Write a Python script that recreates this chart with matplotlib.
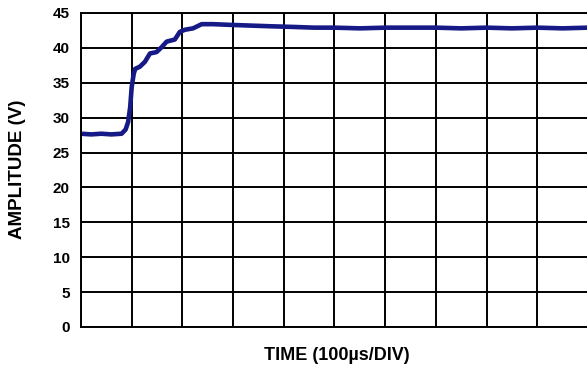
import matplotlib
matplotlib.use('Agg')
import matplotlib.pyplot as plt

# --- Trace (x in divisions, y in volts) ---
time_div = [0.00, 0.20, 0.40, 0.60, 0.80, 0.88, 0.93, 0.97, 1.00, 1.04, 1.07, 1.16,
            1.26, 1.36, 1.49, 1.59, 1.69, 1.85, 1.95, 2.05, 2.21, 2.38, 2.60,
            2.94, 3.33, 3.73, 4.20, 4.60, 5.00, 5.50, 6.00, 6.50, 7.00, 7.50,
            8.00, 8.50, 9.00, 9.50, 10.00]
amplitude = [27.7, 27.6, 27.7, 27.6, 27.7, 28.3, 29.4, 31.5, 34.4, 36.3, 37.0, 37.3,
             38.0, 39.2, 39.4, 40.1, 40.9, 41.2, 42.3, 42.6, 42.8, 43.4, 43.4,
             43.3, 43.2, 43.1, 43.0, 42.9, 42.9, 42.8, 42.9, 42.9, 42.9, 42.8,
             42.9, 42.8, 42.9, 42.8, 42.9]

y_ticks = list(range(0, 50, 5))
x_grid = list(range(0, 11))

plt.rcParams['font.family'] = ['Liberation Sans', 'DejaVu Sans']

fig = plt.figure(figsize=(5.87, 3.68), dpi=100)
ax = fig.add_axes([81 / 587, 41 / 368, 507 / 587, 314 / 368])

ax.plot(time_div, amplitude, color='#161a86', linewidth=3.3, solid_capstyle='butt')

ax.set_xlim(0, 10)
ax.set_ylim(0, 45)
ax.set_xticks(x_grid)
ax.set_yticks(y_ticks)
ax.set_xticklabels([])
ax.set_yticklabels([str(t) for t in y_ticks], fontsize=11, fontweight='bold')
ax.tick_params(axis='both', length=0, pad=8)
ax.grid(True, color='black', linewidth=1.4)
ax.set_axisbelow(True)
for s in ax.spines.values():
    s.set_linewidth(1.4)
    s.set_color('black')

fig.text(337 / 587, 1 - 355 / 368, 'TIME (100µs/DIV)', ha='center', va='center',
         fontsize=13, fontweight='bold')
fig.text(18 / 587, 1 - 169 / 368, 'AMPLITUDE (V)', ha='center', va='center',
         rotation=90, fontsize=13.5, fontweight='bold')

fig.savefig('out.png', dpi=100)
